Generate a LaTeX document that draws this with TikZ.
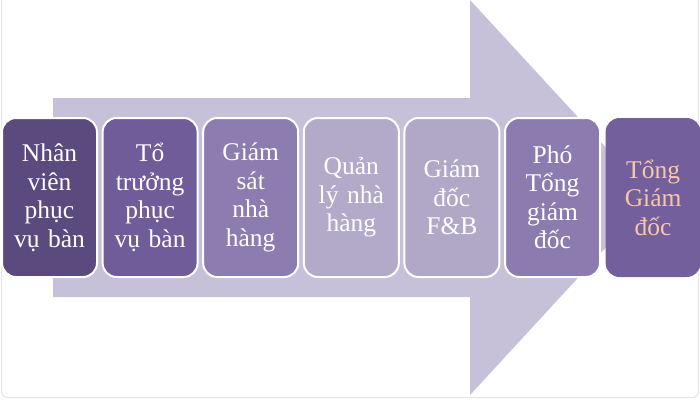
\documentclass[tikz,border=0pt]{standalone}
\usepackage{fontspec}
\setmainfont{Liberation Serif}
\usetikzlibrary{positioning}
\usepackage{xcolor}
\definecolor{arrowlilac}{HTML}{C6C0D8}
\definecolor{stageA}{HTML}{5B4A7E}
\definecolor{stageB}{HTML}{6F5C98}
\definecolor{stageC}{HTML}{8D7CB0}
\definecolor{stageD}{HTML}{B3AACA}
\definecolor{stageE}{HTML}{B1A8C8}
\definecolor{stageF}{HTML}{8C7BAF}
\definecolor{stageG}{HTML}{735F9C}
\definecolor{peach}{HTML}{F7C7A8}

\begin{document}
\begin{tikzpicture}[x=1pt,y=1pt,on grid,node distance=100.6pt,
    stage/.style={draw=white,line width=2pt,rounded corners=14pt,
        minimum width=95pt,minimum height=159pt,inner sep=0pt,
        text width=92pt,align=center,text=white,
        font=\fontsize{25.5}{28.5}\selectfont}]

    \useasboundingbox (0,0) rectangle (700,400);

    %frame of the slide
    \draw[gray!20,line width=1pt,rounded corners=6pt] (1.5,2.5) rectangle (698.5,410);

    %the big arrow behind the steps
    \fill[arrowlilac] (53,302) -- (470,302) -- (470,400) -- (652,202.5)
        -- (470,5) -- (470,103) -- (53,103) -- cycle;

    %steps of the career path
    \node[stage,fill=stageA] (staff) at (49.5,202.5) {Nhân\\viên\\phục\\vụ bàn};
    \node[stage,fill=stageB,right=of staff] (leader) {Tổ\\trưởng\\phục\\vụ bàn};
    \node[stage,fill=stageC,right=of leader] (super) {Giám\\sát\\nhà\\hàng};
    \node[stage,fill=stageD,right=of super] (manager) {Quản\\lý nhà\\hàng};
    \node[stage,fill=stageE,right=of manager] (fnb) {Giám\\đốc\\F\&B};
    \node[stage,fill=stageF,right=of fnb] (deputy) {Phó\\Tổng\\giám\\đốc};
    \node[stage,fill=stageG,draw=none,text=peach,right=of deputy] (ceo) {Tổng\\Giám\\đốc};

\end{tikzpicture}
\end{document}
